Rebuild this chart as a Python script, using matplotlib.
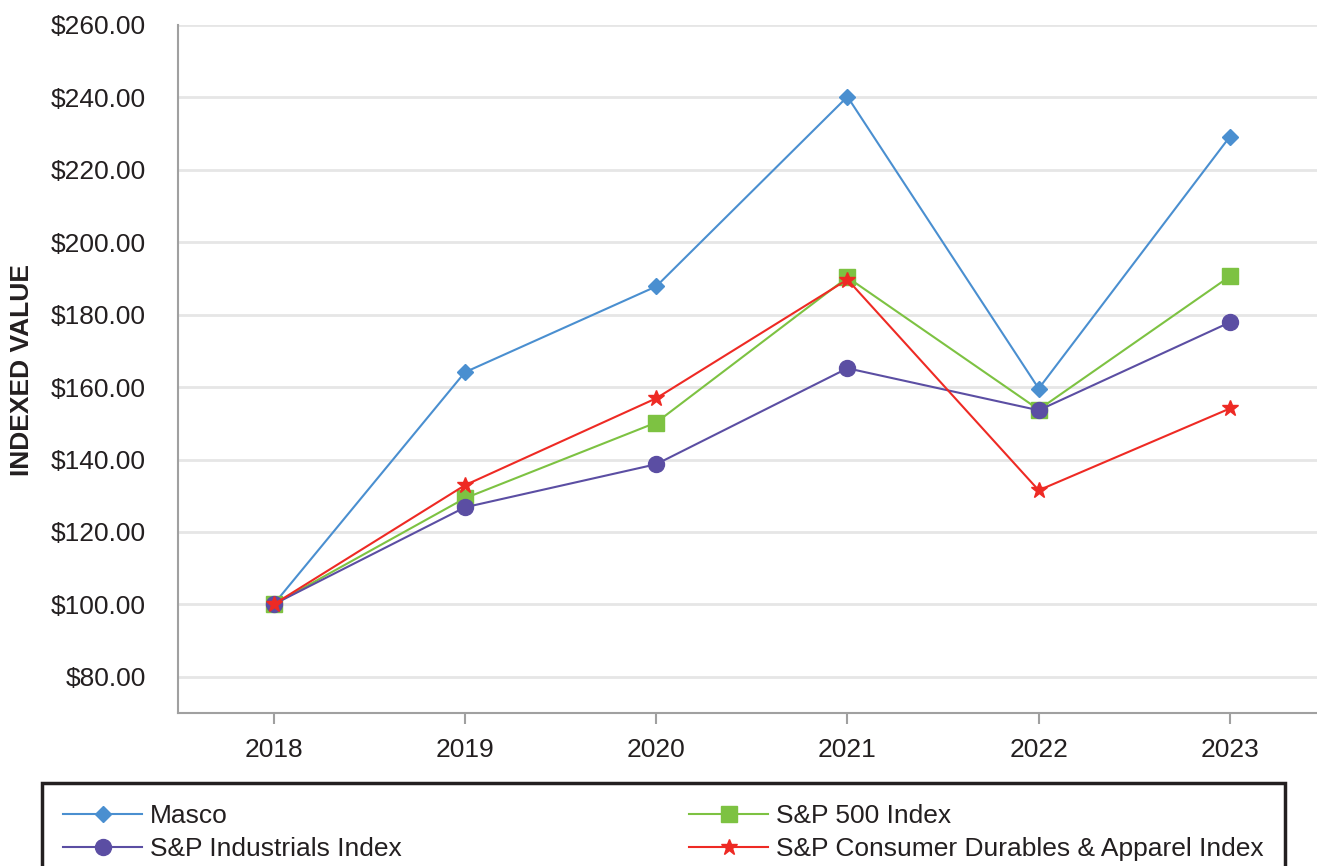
import matplotlib
matplotlib.use("Agg")
import matplotlib.pyplot as plt
from matplotlib.ticker import FuncFormatter

# date
ani = [2018, 2019, 2020, 2021, 2022, 2023]
masco = [100.0, 164.1, 187.8, 240.2, 159.6, 229.2]
sp500 = [100.0, 129.3, 150.2, 190.3, 153.8, 190.6]
industrials = [100.0, 126.8, 138.7, 165.2, 153.6, 177.9]
consumer = [100.0, 132.9, 156.9, 189.7, 131.5, 154.1]
y_ticks = [80, 100, 120, 140, 160, 180, 200, 220, 240, 260]

plt.rcParams['font.family'] = ['Liberation Sans', 'DejaVu Sans']

fig = plt.figure(figsize=(13.17, 8.66), dpi=100)
ax = fig.add_axes([178 / 1317, 1 - 713 / 866, 1 - 178 / 1317, (713 - 25) / 866])

l_masco, = ax.plot(ani, masco, color='#4a8fd0', lw=1.5, marker='D', ms=8.5,
                   label='Masco', zorder=3)
l_sp, = ax.plot(ani, sp500, color='#7dc242', lw=1.5, marker='s', ms=12,
                label='S&P 500 Index', zorder=4)
l_ind, = ax.plot(ani, industrials, color='#5b4ea3', lw=1.5, marker='o', ms=11.5,
                 label='S&P Industrials Index', zorder=5)
l_con, = ax.plot(ani, consumer, color='#ee2a24', lw=1.5, marker='*', ms=12,
                 label='S&P Consumer Durables & Apparel Index', zorder=6)

ax.set_xlim(2017.5, 2023.455)
ax.set_ylim(70, 260)
ax.set_xticks(ani)
ax.set_yticks(y_ticks)
ax.yaxis.set_major_formatter(FuncFormatter(lambda v, p: f'${v:.2f}'))
ax.tick_params(axis='y', length=0, pad=23, labelsize=19, labelcolor='#231f20')
ax.tick_params(axis='x', length=8, width=1.5, color='#a0a0a0', pad=10,
               labelsize=19, labelcolor='#231f20')
ax.grid(axis='y', color='#e6e6e6', lw=2)
ax.set_axisbelow(True)
for s in ['top', 'right']:
    ax.spines[s].set_visible(False)
for s in ['left', 'bottom']:
    ax.spines[s].set_color('#a0a0a0')
    ax.spines[s].set_linewidth(1.5)

fig.text(22 / 1317, 1 - 370 / 866, 'INDEXED VALUE', rotation=90, fontsize=19,
         fontweight='bold', ha='center', va='center', color='#231f20')

leg = fig.legend([l_masco, l_ind, l_sp, l_con],
                 [l.get_label() for l in [l_masco, l_ind, l_sp, l_con]],
                 loc='upper left', ncol=2, mode='expand', borderaxespad=0,
                 bbox_to_anchor=(42 / 1317, 1 - 783 / 866, (1285 - 42) / 1317, 0),
                 fontsize=19, handlelength=3.0, handletextpad=0.3,
                 labelspacing=0.35, borderpad=0.8, fancybox=False,
                 edgecolor='#231f20', framealpha=1)
leg.get_frame().set_linewidth(2.5)
for t in leg.get_texts():
    t.set_color('#231f20')

fig.savefig('out.png', dpi=100)
